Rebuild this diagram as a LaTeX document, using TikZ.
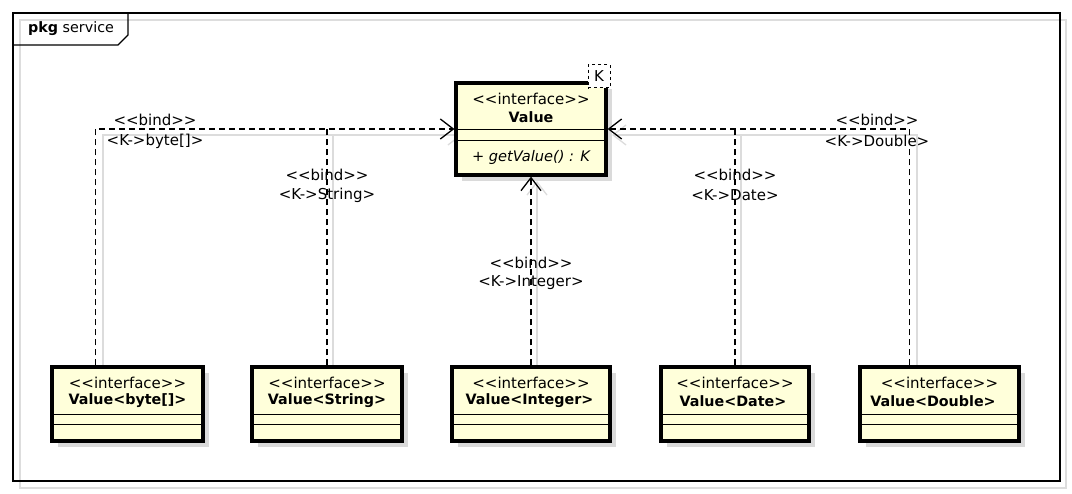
\documentclass[tikz,border=0pt]{standalone}
\usepackage{fontspec}
\setmainfont{DejaVu Sans}
\usetikzlibrary{arrows.meta,calc,shadows}
\definecolor{boxfill}{HTML}{FFFFDA}
\definecolor{boxshade}{HTML}{DADADA}
\definecolor{lineshade}{HTML}{DCDCDC}
\definecolor{frameshade}{HTML}{DDDDDD}
\newcommand{\stI}{<{}<interface>{}>}
\newcommand{\stB}{<{}<bind>{}>}
\tikzset{
  txt/.style={inner sep=0pt, font=\fontsize{15bp}{17bp}\selectfont},
  btxt/.style={inner sep=0pt, font=\fontsize{14.3bp}{17bp}\selectfont\bfseries},
  cls/.style={draw=black, line width=3.2bp, fill=boxfill, rectangle, inner sep=0pt,
    drop shadow={shadow xshift=6bp, shadow yshift=-6bp, fill=boxshade, opacity=1}},
  divider/.style={line width=1.3bp, draw=black},
  conn/.style={line width=1.3bp, dash pattern=on 6bp off 4bp},
  connshade/.style={line width=1.3bp, draw=lineshade, transform canvas={shift={(6bp,-6bp)}}},
  opentip/.style={-{Straight Barb[length=13bp,width=20bp]}},
  tparam/.style={draw=black, dashed, line width=1bp, fill=white, inner sep=0pt,
    minimum width=22bp, minimum height=23bp, font=\fontsize{15bp}{17bp}\selectfont}
}
\begin{document}
\begin{tikzpicture}[x=1bp,y=-1bp]
\useasboundingbox (0,0) rectangle (1072,494);
% frame
\draw[frameshade, line width=1.3bp] (20,20) rectangle (1066,488);
\draw[black, line width=1.3bp] (13,13) rectangle (1060,481);
\draw[black, line width=1.3bp] (13,45) -- (118,45) -- (128,35) -- (128,13);
\node[inner sep=0pt, font=\fontsize{14.3bp}{17bp}\selectfont, anchor=west] (pkg) at (28,29) {\textbf{pkg} service};

\path (531,129) coordinate (valc);
\path (127.5,404) coordinate (vbc);
\path (327,404) coordinate (vsc);
\path (531,404) coordinate (vic);
\path (735,404) coordinate (vdc);
\path (939.5,404) coordinate (vdbc);

% connector shadows
\draw[connshade, opentip] (97,367) |- (456,129);
\draw[connshade] (327,367) -- (327,129);
\draw[connshade, opentip] (531,367) -- (531,175);
\draw[connshade] (735,367) -- (735,129);
\draw[connshade, opentip] (911,367) |- (606,129);

% main interface
\node[cls, minimum width=150bp, minimum height=92bp] (val) at (valc) {};
\draw[divider] ($(val.north west)+(1.6,48)$) -- ($(val.north east)+(-1.6,48)$);
\draw[divider] ($(val.north west)+(1.6,59)$) -- ($(val.north east)+(-1.6,59)$);
\node[txt] (valst) at (531,99) {\stI};
\node[btxt] (valname) at (531,117) {Value};
\node[txt, font=\fontsize{14.6bp}{17bp}\selectfont\itshape] (valop) at (531,157) {+ getValue() : K};
\node[tparam] (kparam) at (599,76.5) {K};

% bottom interfaces
\node[cls, minimum width=151bp, minimum height=74bp] (vb) at (vbc) {};
\node[cls, minimum width=150bp, minimum height=74bp] (vs) at (vsc) {};
\node[cls, minimum width=158bp, minimum height=74bp] (vi) at (vic) {};
\node[cls, minimum width=148bp, minimum height=74bp] (vd) at (vdc) {};
\node[cls, minimum width=159bp, minimum height=74bp] (vdb) at (vdbc) {};
\foreach \b in {vb,vs,vi,vd,vdb}{
  \draw[divider] ($(\b.north west)+(1.6,49)$) -- ($(\b.north east)+(-1.6,49)$);
  \draw[divider] ($(\b.north west)+(1.6,59)$) -- ($(\b.north east)+(-1.6,59)$);
}
\node[txt] (vbst) at (127.5,383) {\stI};
\node[btxt] (vbname) at (127.5,401) {Value<byte[]>};
\node[txt] (vsst) at (327,383) {\stI};
\node[btxt] (vsname) at (327,401) {Value<String>};
\node[txt] (vist) at (531,383) {\stI};
\node[btxt] (viname) at (529.5,401) {Value<Integer>};
\node[txt] (vdst) at (735,383) {\stI};
\node[btxt] (vdname) at (733,401) {Value<Date>};
\node[txt] (vdbst) at (939.5,383) {\stI};
\node[btxt] (vdbname) at (933,401) {Value<Double>};

% connectors
\coordinate (cb) at ($(vb.north west)+(45,0)$);
\coordinate (cdb) at ($(vdb.north west)+(51,0)$);
\draw[conn, opentip] (cb) |- (val.west);
\draw[conn] (vs.north) -- (vs.north |- val.west);
\draw[conn, opentip] (vi.north) -- (val.south);
\draw[conn] (vd.north) -- (vd.north |- val.east);
\draw[conn, opentip] (cdb) |- (val.east);

% labels
\node[txt] (l1a) at (155,120) {\stB};
\node[txt] (l1b) at (155,141) {<K->byte[]>};
\node[txt] (l2a) at (327,175) {\stB};
\node[txt] (l2b) at (327,195) {<K->String>};
\node[txt] (l3a) at (531,263) {\stB};
\node[txt] (l3b) at (531,283) {<K->Integer>};
\node[txt] (l4a) at (735,175) {\stB};
\node[txt] (l4b) at (735,195) {<K->Date>};
\node[txt] (l5a) at (877,120) {\stB};
\node[txt] (l5b) at (877,141) {<K->Double>};
\end{tikzpicture}
\end{document}
